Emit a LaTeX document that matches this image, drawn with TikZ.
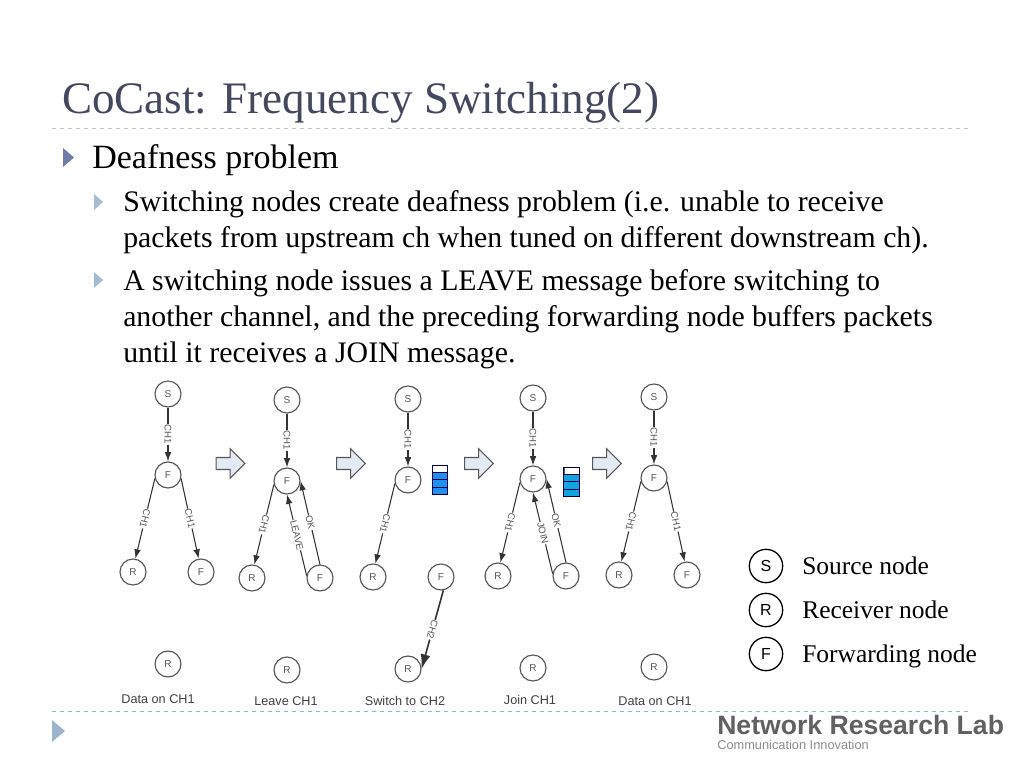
\documentclass[tikz,border=0pt]{standalone}
\usepackage{fontspec}
\setmainfont{Liberation Serif}
\setsansfont{Liberation Sans}
\usepackage{xcolor}
\definecolor{nlslate}{RGB}{68,71,96}
\definecolor{nlrule}{RGB}{190,196,200}
\definecolor{nlrulebot}{RGB}{150,180,200}
\definecolor{nlbullet}{RGB}{112,124,168}
\definecolor{nlsubbullet}{RGB}{165,188,210}
\definecolor{nlendbullet}{RGB}{155,181,207}
\definecolor{nlgray}{RGB}{85,85,85}
\definecolor{nllight}{RGB}{228,234,243}
\definecolor{nlblue}{RGB}{30,144,240}
\definecolor{nlcyan}{RGB}{16,165,224}
\usetikzlibrary{arrows.meta,shapes.arrows}
\tikzset{
  netnode/.style={draw=nlgray, circle, fill=white, line width=0.85pt, minimum size=19.5pt, inner sep=0pt,
                  font=\sffamily\fontsize{7.5}{8}\selectfont, text=nlgray},
  keynode/.style={draw=black, circle, fill=white, line width=1pt, minimum size=25pt, inner sep=0pt,
                  font=\sffamily\fontsize{12}{14}\selectfont},
  link/.style={draw=black!80, line width=0.8pt, -{Latex[length=7pt,width=5pt]}},
  uplink/.style={draw=black!80, line width=0.8pt, {Latex[length=7pt,width=5pt]}-},
  chlabel/.style={midway, sloped, allow upside down, fill=white, inner sep=0.4pt,
                  font=\sffamily\fontsize{7.2}{8}\selectfont, text=nlgray},
  caption/.style={font=\sffamily\fontsize{9.5}{11}\selectfont, text=black!75},
  blockarrow/.style={single arrow, draw=nlgray, fill=nllight, line width=0.8pt, inner xsep=0pt, inner ysep=4.1pt,
                     minimum height=21.5pt, single arrow head extend=6.6pt},
  bodytext/.style={anchor=base west, inner sep=0pt, align=left, fill=none},
  legendtext/.style={anchor=base west, inner sep=0pt, font=\fontsize{19.1}{22}\selectfont},
}
\begin{document}
\begin{tikzpicture}[x=0.75pt, y=-0.75pt]
\useasboundingbox (0,0) rectangle (1024,768);
% Title and rules
\node[bodytext, font=\fontsize{33.8}{38}\selectfont, text=nlslate] (title) at (62,113) {CoCast: Frequency Switching(2)};
\draw[nlrule, dashed, line width=0.7pt] (52,128) -- (972,128);
\draw[nlrulebot, dashed, line width=0.7pt] (52,711) -- (972,711);
% Bullets
\fill[nlbullet] (63,148) -- (74,157.5) -- (63,167) -- cycle;
\foreach \y in {202,280}
  \fill[nlsubbullet] (94,\y-8) -- (103,\y) -- (94,\y+8) -- cycle;
\fill[nlendbullet] (52,720) -- (65,731) -- (52,742) -- cycle;
% Body text
\node[bodytext, font=\fontsize{25.5}{28}\selectfont] (head) at (92,168) {Deafness problem};
\node[bodytext, font=\fontsize{22.35}{26.5}\selectfont] (sub1) at (123,247) {Switching nodes create deafness problem (i.e. unable to receive\\packets from upstream ch when tuned on different downstream ch).};
\node[bodytext, font=\fontsize{22.35}{27}\selectfont] (sub2) at (123,362.5) {A switching node issues a LEAVE message before switching to\\another channel, and the preceding forwarding node buffers packets\\until it receives a JOIN message.};
% Panels
\foreach \p/\x/\y/\cx/\cy/\cap in {
  1/168/394/158/699/Data on CH1,
  2/287/400/286/701/Leave CH1,
  3/408/399/405/701/Switch to CH2,
  4/533/398/530/700/Join CH1,
  5/654/397/655/701/Data on CH1}{
  \node[netnode] (s\p) at (\x,\y) {S};
  \node[netnode] (f\p) at (\x,\y+81) {F};
  \node[netnode] (r\p) at (\x-35,\y+178) {R};
  \node[netnode] (g\p) at (\x+33,\y+178) {F};
  \node[netnode] (d\p) at (\x,\y+270) {R};
  \node[caption] (cap\p) at (\cx,\cy) {\cap};
}
% Connectors
\foreach \p in {1,...,5}{
  \draw[link] (s\p) -- node[chlabel] (ls\p) {CH1} (f\p);
  \draw[link] (f\p.195) -- node[chlabel] (lr\p) {CH1} (r\p.80);
}
\foreach \p in {1,5}
  \draw[link] (f\p.-15) -- node[chlabel] (lg\p) {CH1} (g\p.100);
\foreach \p/\msg in {2/LEAVE,4/JOIN}{
  \draw[uplink] (f\p.south) -- node[chlabel] (lm\p) {\msg} (g\p.170);
  \draw[uplink] (f\p.east) -- node[chlabel] (lk\p) {OK} (g\p.north);
}
\draw[link, line width=1.2pt, -{Latex[length=11pt,width=7.5pt]}] (g3.-80) -- node[chlabel] (lc3) {CH2} (d3.east);
% Block arrows
\foreach \n/\x/\y in {1/227.5/463.5, 2/348/463.5, 3/476/463.5, 4/604/463.5}
  \node[blockarrow] (next\n) at (\x,\y) {};
% Buffers
\foreach \n/\x/\y/\col in {1/432/465/nlblue, 2/563.5/467/nlcyan}{
  \node[draw=nlgray, fill=white, line width=0.6pt, minimum width=11.6pt, minimum height=21.75pt, inner sep=0pt, anchor=north west] (buf\n) at (\x,\y) {};
  \fill[\col] (\x,\y+7) rectangle (\x+15.5,\y+29);
  \draw[black!70!blue, line width=0.6pt] (\x,\y) rectangle (\x+15.5,\y+29) (\x,\y+7) -- ++(15.5,0) (\x,\y+14.5) -- ++(15.5,0) (\x,\y+22) -- ++(15.5,0);
}
% Legend
\foreach \n/\lbl/\y/\txt in {a/S/566/Source node, b/R/610/Receiver node, c/F/654/Forwarding node}{
  \node[keynode] (key\n) at (766,\y) {\lbl};
  \node[legendtext] (txt\n) at (802,\y+8) {\txt};
}
% Logo
\node[bodytext, font=\sffamily\bfseries\fontsize{19.95}{22}\selectfont, text=black!62] (logo) at (717,734) {Network Research Lab};
\node[bodytext, font=\sffamily\fontsize{9.6}{11}\selectfont, text=black!45] (tag) at (717,749) {Communication Innovation};
\end{tikzpicture}
\end{document}
